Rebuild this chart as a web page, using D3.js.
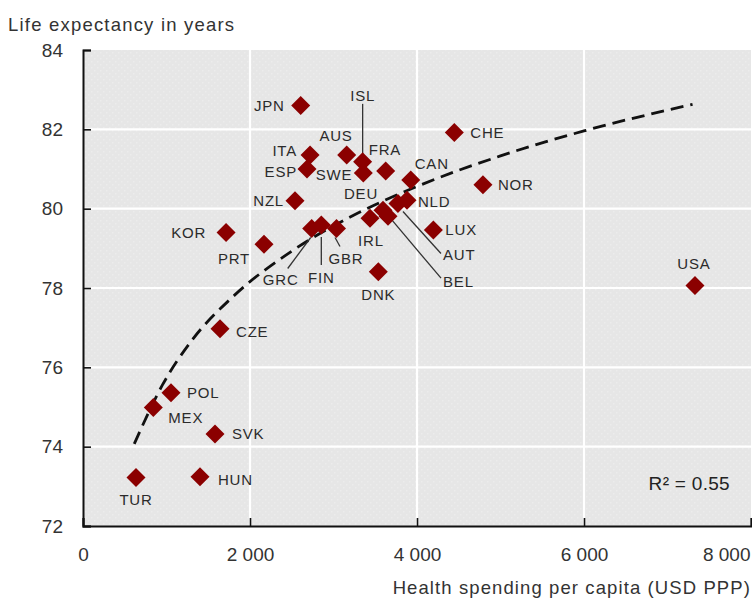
<!DOCTYPE html>
<html><head><meta charset="utf-8">
<script src="https://cdn.jsdelivr.net/npm/d3@7"></script>
<style>
html,body{margin:0;padding:0;background:#fff;}
svg text{font-family:"Liberation Sans",Arial,sans-serif;}
</style></head>
<body><svg id="chart" width="752" height="601"></svg>
<script>
// ---- data ----
const countries = ["JPN","ITA","ESP","NZL","AUS","ISL","SWE","FRA","CAN","CHE","NOR","DEU","IRL","BEL","AUT","NLD","LUX","DNK","GRC","FIN","GBR","KOR","PRT","CZE","POL","MEX","SVK","HUN","TUR","USA"];
const spending  = [2607,2719,2683,2539,3158,3349,3357,3625,3925,4447,4790,3593,3437,3653,3772,3880,4196,3537,2739,2854,3036,1713,2168,1641,1054,842,1581,1401,635,7329];
const lifeExp   = [82.6,81.35,81.0,80.2,81.35,81.18,80.9,80.95,80.72,81.92,80.6,79.96,79.76,79.81,80.13,80.21,79.46,78.41,79.5,79.59,79.5,79.4,79.1,76.97,75.36,74.99,74.32,73.24,73.22,78.06];
// trend curve
const trendX = [614,950,1300,1800,2500,3200,4000,5000,6000,7300];
const trendY = [74.07,75.55,76.67,77.79,78.93,79.79,80.56,81.33,81.96,82.63];
const xTicks = [0,2000,4000,6000,8000];
const yTicks = [72,74,76,78,80,82,84];
const xTickLabels = ["0","2 000","4 000","6 000","8 000"];
const r2Label = "R\u00B2 = 0.55";
const yTitle = "Life expectancy in years";
const xTitle = "Health spending per capita (USD PPP)";

// ---- label layout (pixel offsets from the marker) ----
const labelLayout = {
  JPN:{dx:-16,dy:0,a:"end"}, ITA:{dx:-13,dy:-5,a:"end"}, ESP:{dx:-10,dy:3,a:"end"},
  NZL:{dx:-11,dy:0,a:"end"}, AUS:{dx:6,dy:-20,a:"end"},
  ISL:{dx:0,dy:-66,a:"middle",line:[0,-58,0,-4]},
  SWE:{dx:-11,dy:2,a:"end"}, FRA:{dx:-17,dy:-21,a:"start"}, CAN:{dx:4,dy:-17,a:"start"},
  CHE:{dx:16,dy:0,a:"start"}, NOR:{dx:15,dy:0,a:"start"}, DEU:{dx:-22,dy:-17,a:"middle"},
  IRL:{dx:1,dy:22,a:"middle"}, BEL:{dx:55,dy:65,a:"start",line:[4,4,53,62]},
  AUT:{dx:45,dy:51,a:"start",line:[5,8,43,50]}, NLD:{dx:11,dy:1,a:"start"},
  LUX:{dx:12,dy:0,a:"start"}, DNK:{dx:0,dy:23,a:"middle"},
  GRC:{dx:-31,dy:51,a:"middle",line:[-24,40,-1,9]}, FIN:{dx:0,dy:53,a:"middle",line:[0,12,0,40]},
  GBR:{dx:-8,dy:30,a:"start",line:[-1.5,9,3.5,18]},
  KOR:{dx:-20,dy:0,a:"end"}, PRT:{dx:-14,dy:14,a:"end"}, CZE:{dx:16,dy:3,a:"start"},
  POL:{dx:16,dy:0,a:"start"}, MEX:{dx:15,dy:10,a:"start"}, SVK:{dx:17,dy:0,a:"start"},
  HUN:{dx:18,dy:3,a:"start"}, TUR:{dx:0,dy:22,a:"middle"}, USA:{dx:-1,dy:-22,a:"middle"}
};

const svg = d3.select("#chart");
const L = 83, R = 751, T = 50, B = 526;
const x = d3.scaleLinear().domain([0,8000]).range([L,R]);
const y = d3.scaleLinear().domain([72,84]).range([B,T]);

// background with dotted texture
const defs = svg.append("defs");
const pat = defs.append("pattern").attr("id","dots").attr("width",6).attr("height",6).attr("patternUnits","userSpaceOnUse");
pat.append("rect").attr("width",6).attr("height",6).attr("fill","#e6e6e6");
pat.append("rect").attr("x",1).attr("y",1).attr("width",1.5).attr("height",1.5).attr("fill","#ececec");
pat.append("rect").attr("x",4).attr("y",4).attr("width",1.5).attr("height",1.5).attr("fill","#ececec");
svg.append("rect").attr("x",L).attr("y",T).attr("width",R-L).attr("height",B-T).attr("fill","url(#dots)");

// grid
svg.append("g").selectAll("line").data(yTicks.filter(d=>d>72 && d<84)).join("line")
  .attr("x1",L).attr("x2",R).attr("y1",d=>y(d)).attr("y2",d=>y(d))
  .attr("stroke","#fff").attr("stroke-width",2.2);
svg.append("g").selectAll("line").data(xTicks.filter(d=>d>0 && d<8000)).join("line")
  .attr("x1",d=>x(d)).attr("x2",d=>x(d)).attr("y1",T).attr("y2",B)
  .attr("stroke","#fff").attr("stroke-width",2.2);

// axes
const yAxis = d3.axisLeft(y).tickValues(yTicks).tickSize(-8).tickPadding(28);
const gy = svg.append("g").attr("transform",`translate(${L},0)`).call(yAxis);
gy.select(".domain").attr("stroke","#111").attr("stroke-width",2);
gy.selectAll(".tick line").attr("stroke","#111").attr("stroke-width",1.6);
gy.selectAll(".tick text").attr("x",-20).attr("font-size",19).attr("fill","#333");

const xAxis = d3.axisBottom(x).tickValues(xTicks).tickFormat((d,i)=>xTickLabels[i]).tickSize(-8).tickPadding(12);
const gx = svg.append("g").attr("transform",`translate(0,${B})`).call(xAxis);
gx.select(".domain").attr("stroke","#111").attr("stroke-width",2);
gx.selectAll(".tick line").attr("stroke","#111").attr("stroke-width",1.6);
gx.selectAll(".tick text").attr("y",22).attr("font-size",19).attr("fill","#333")
  .attr("text-anchor",d=>d===8000?"end":"middle")
  .attr("dx",d=>d===8000?-1:0);

// trend line
const trend = trendX.map((v,i)=>[v,trendY[i]]);
svg.append("path").datum(trend)
  .attr("d", d3.line().x(d=>x(d[0])).y(d=>y(d[1])).curve(d3.curveMonotoneX))
  .attr("fill","none").attr("stroke","#111").attr("stroke-width",2.8).attr("stroke-dasharray","13,7");

// leader lines
const pts = countries.map((c,i)=>({c, px:x(spending[i]), py:y(lifeExp[i])}));
svg.append("g").selectAll("line").data(pts.filter(p=>labelLayout[p.c].line)).join("line")
  .attr("x1",p=>p.px+labelLayout[p.c].line[0]).attr("y1",p=>p.py+labelLayout[p.c].line[1])
  .attr("x2",p=>p.px+labelLayout[p.c].line[2]).attr("y2",p=>p.py+labelLayout[p.c].line[3])
  .attr("stroke","#333").attr("stroke-width",1.3);

// diamonds
const s = 9.5;
svg.append("g").selectAll("path").data(pts).join("path")
  .attr("d",p=>`M${p.px},${p.py-s}L${p.px+s},${p.py}L${p.px},${p.py+s}L${p.px-s},${p.py}Z`)
  .attr("fill","#8b0000");

// labels
svg.append("g").selectAll("text").data(pts).join("text")
  .attr("x",p=>p.px+labelLayout[p.c].dx).attr("y",p=>p.py+labelLayout[p.c].dy)
  .attr("dy","0.36em").attr("text-anchor",p=>labelLayout[p.c].a)
  .attr("font-size",15).attr("letter-spacing",0.8).attr("fill","#2b2b2b")
  .text(p=>p.c);

// titles
svg.append("text").attr("x",8).attr("y",31).attr("font-size",18.5).attr("letter-spacing",1.2).attr("fill","#333").text(yTitle);
svg.append("text").attr("x",751).attr("y",594).attr("text-anchor","end").attr("font-size",18.5).attr("letter-spacing",1.1).attr("fill","#333").text(xTitle);
svg.append("text").attr("x",730).attr("y",490).attr("text-anchor","end").attr("font-size",19).attr("letter-spacing",0.3).attr("fill","#222").text(r2Label);
</script></body></html>
